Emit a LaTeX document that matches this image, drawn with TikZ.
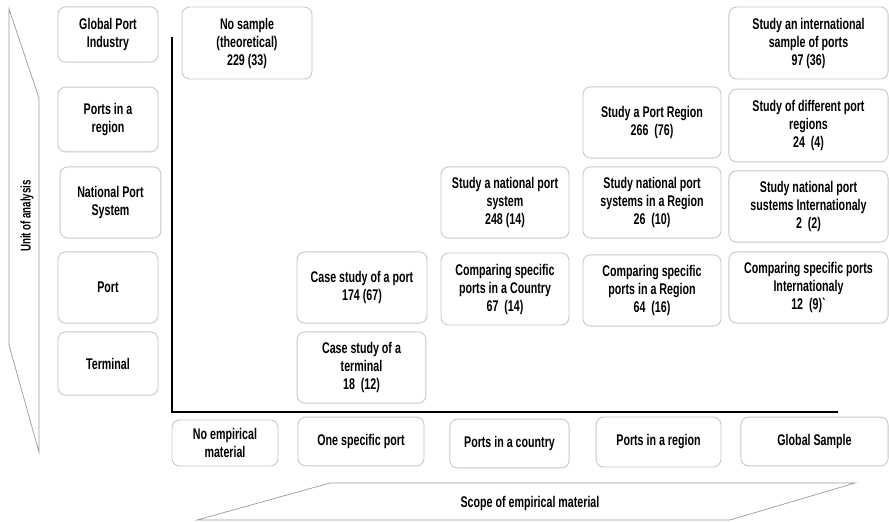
\documentclass[tikz,border=0pt]{standalone}
\usepackage{fontspec}
\setmainfont{Liberation Sans}[FakeStretch=0.69,Ligatures=TeXOff]
\usepackage{xcolor}
\usepackage{tikz}
\definecolor{CellLine}{HTML}{C4C4C4}
\definecolor{FrameLine}{HTML}{9A9A9A}
\tikzset{
  cell/.style={draw=CellLine,line width=0.6pt,rounded corners=5.5pt,align=center,inner sep=1pt,
    font=\fontsize{11}{12.8}\selectfont\bfseries},
  tag/.style={font=\fontsize{11}{12.8}\selectfont\bfseries}
}

\begin{document}
\begin{tikzpicture}[x=0.025cm,y=-0.025cm]
\path[use as bounding box] (0,0) rectangle (889,521);
% frames of the two axis titles
\draw[FrameLine,line width=0.5pt] (9,9) -- (39,98) -- (39,452) -- (9,345) -- cycle;
\draw[FrameLine,line width=0.5pt] (197,520) -- (330,483) -- (855,483) -- (730,520) -- cycle;
\node[tag,font=\fontsize{10}{12}\selectfont\bfseries,rotate=90] (unit) at (27,216) {Unit of analysis};
\node[tag] (scope) at (530,503) {Scope of empirical material};
% axes
\coordinate (top) at (172,37);
\coordinate (origin) at (172,412);
\coordinate (right) at (838,412);
\draw[line width=0.9pt] (top) -- (origin) -- (right);
% unit of analysis
\node[cell,minimum width=2.50cm,minimum height=1.38cm] (industry) at (108,34.5) {Global Port\\Industry};
\node[cell,minimum width=2.50cm,minimum height=1.62cm] (region) at (108,119.5) {Ports in a\\region};
\node[cell,minimum width=2.52cm,minimum height=1.78cm] (national) at (110.5,202.5) {National Port\\System};
\node[cell,minimum width=2.50cm,minimum height=1.78cm] (port) at (108,287.5) {Port};
\node[cell,minimum width=2.50cm,minimum height=1.58cm] (terminal) at (108,363.5) {Terminal};
% scope of empirical material
\node[cell,minimum width=2.65cm,minimum height=1.15cm] (noemp) at (225,443) {No empirical\\material};
\node[cell,minimum width=3.15cm,minimum height=1.22cm] (onep) at (361,441.5) {One specific port};
\node[cell,minimum width=2.98cm,minimum height=1.22cm] (ctry) at (509.5,443.5) {Ports in a country};
\node[cell,minimum width=3.12cm,minimum height=1.25cm] (regs) at (658.5,442) {Ports in a region};
\node[cell,minimum width=3.68cm,minimum height=1.22cm] (globs) at (814.5,441.5) {Global Sample};
% studies
\node[cell,minimum width=3.25cm,minimum height=1.80cm] (theory) at (247,43) {No sample\\(theoretical)\\229 (33)};
\node[cell,minimum width=3.25cm,minimum height=1.78cm] (caseport) at (362,287.5) {Case study of a port\\174 (67)};
\node[cell,minimum width=3.22cm,minimum height=1.78cm] (caseterm) at (361.5,367.5) {Case study of a\\terminal\\18~~(12)};
\node[cell,minimum width=3.20cm,minimum height=1.78cm] (natsys) at (505,202.5) {Study a national port\\system\\248 (14)};
\node[cell,minimum width=3.20cm,minimum height=1.80cm] (cmpctry) at (505,289) {Comparing specific\\ports in a Country\\67~~(14)};
\node[cell,minimum width=3.45cm,minimum height=1.78cm] (portreg) at (652,122.5) {Study a Port Region\\266~~(76)};
\node[cell,minimum width=3.45cm,minimum height=1.78cm] (natreg) at (652,202.5) {Study national port\\systems in a Region\\26~~(10)};
\node[cell,minimum width=3.45cm,minimum height=1.78cm] (cmpreg) at (652,290.5) {Comparing specific\\ports in a Region\\64~~(16)};
\node[cell,minimum width=3.98cm,minimum height=1.80cm] (intl) at (808.5,43) {Study an international\\sample of ports\\97 (36)};
\node[cell,minimum width=3.98cm,minimum height=1.82cm] (diffreg) at (808.5,125.5) {Study of different port\\regions\\24~~(4)};
\node[cell,minimum width=3.98cm,minimum height=1.78cm] (natintl) at (808.5,206.5) {Study national port\\sustems Internationaly\\2~~(2)};
\node[cell,minimum width=3.98cm,minimum height=1.78cm] (cmpintl) at (808.5,287.5) {Comparing specific ports\\Internationaly\\12~~(9)`};
\end{tikzpicture}
\end{document}
